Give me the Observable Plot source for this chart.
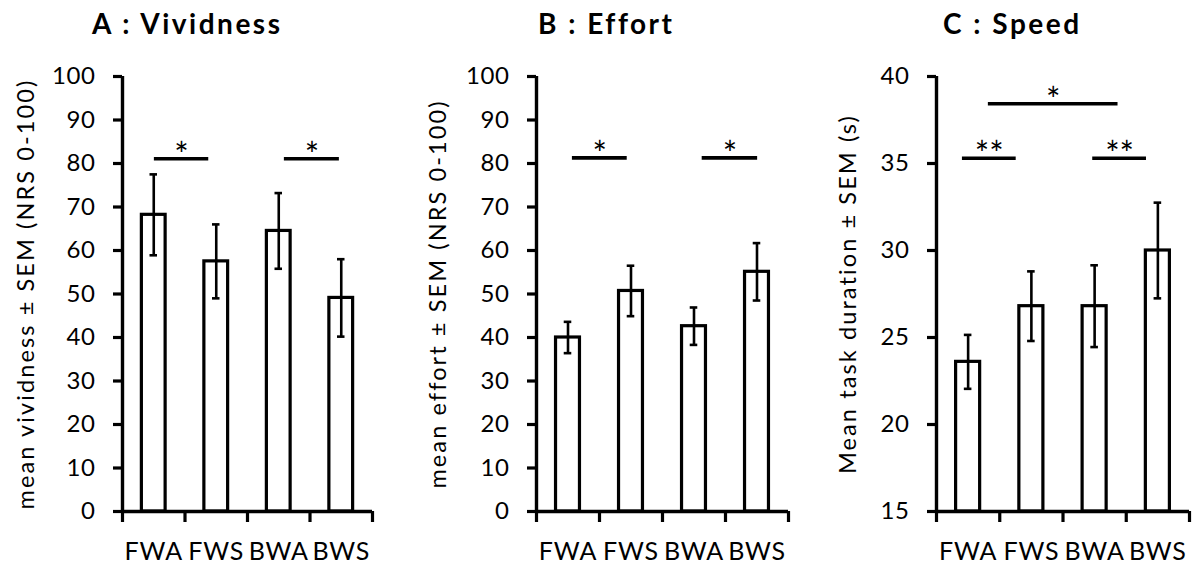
<!DOCTYPE html>
<html><head><meta charset="utf-8">
<script src="https://cdn.jsdelivr.net/npm/d3@7"></script>
<script src="https://cdn.jsdelivr.net/npm/@observablehq/plot@0.6"></script>
<style>
body{margin:0;background:#fff;color:#000;}
#wrap{position:relative;width:1195px;height:564px;overflow:hidden;font-family:Lato,sans-serif;}
.panel{position:absolute;top:0;height:564px;}
.title{position:absolute;top:9px;font-family:Lato,sans-serif;font-weight:bold;font-size:28px;letter-spacing:2.5px;white-space:nowrap;line-height:1;}
.chart{position:absolute;top:50px;left:0;}
</style>
</head><body><div id="wrap"></div>
<script>
const categories = ["FWA", "FWS", "BWA", "BWS"];

const vividMean = [68.2, 57.5, 64.5, 49.1];
const vividSem  = [9.3, 8.5, 8.7, 8.9];
const effortMean = [40.0, 50.7, 42.6, 55.1];
const effortSem  = [3.6, 5.8, 4.3, 6.6];
const speedMean = [23.6, 26.8, 26.8, 30.0];
const speedSem  = [1.55, 2.0, 2.35, 2.75];

const pctTicks = [0, 10, 20, 30, 40, 50, 60, 70, 80, 90, 100];
const speedTicks = [15, 20, 25, 30, 35, 40];

const titles = ["A : Vividness", "B : Effort", "C : Speed"];
const yLabels = ["mean vividness \u00b1 SEM (NRS 0-100)", "mean effort \u00b1 SEM (NRS 0-100)", "Mean task duration \u00b1 SEM (s)"];

// significance brackets: span in category units, level in data units
const sigVivid = [
  {x1: 0.51, x2: 1.38, y: 81.1, label: "*"},
  {x1: 2.59, x2: 3.47, y: 81.1, label: "*"}
];
const sigEffort = [
  {x1: 0.57, x2: 1.44, y: 81.3, label: "*"},
  {x1: 2.63, x2: 3.51, y: 81.3, label: "*"}
];
const sigSpeed = [
  {x1: 0.41, x2: 1.26, y: 35.3, label: "**"},
  {x1: 2.47, x2: 3.32, y: 35.3, label: "**"},
  {x1: 0.82, x2: 2.87, y: 38.43, label: "*"}
];

const panels = [
  {left: 0, width: 400, marginLeft: 122, marginRight: 28, titleLeft: 92, labelDx: -96,
   means: vividMean, sems: vividSem, yDomain: [0, 100], yTicks: pctTicks, sigs: sigVivid},
  {left: 400, width: 400, marginLeft: 136, marginRight: 12, titleLeft: 138, labelDx: -98,
   means: effortMean, sems: effortSem, yDomain: [0, 100], yTicks: pctTicks, sigs: sigEffort},
  {left: 800, width: 395, marginLeft: 136, marginRight: 6, titleLeft: 143, labelDx: -88,
   means: speedMean, sems: speedSem, yDomain: [15, 40], yTicks: speedTicks, sigs: sigSpeed}
];

const wrap = document.getElementById("wrap");

panels.forEach((p, k) => {
  const rows = categories.map((c, i) => ({c, i, m: p.means[i], s: p.sems[i]}));
  const hw = 0.19, cap = 0.06;
  const svg = Plot.plot({
    width: p.width, height: 514,
    marginLeft: p.marginLeft, marginRight: p.marginRight, marginTop: 26, marginBottom: 53,
    x: {domain: [0, 4], axis: null},
    y: {domain: p.yDomain, axis: null},
    style: {fontFamily: "Lato, sans-serif", fontSize: "22px", color: "black", background: "white", overflow: "visible"},
    marks: [
      Plot.rectY(rows, {x1: d => d.i + 0.5 - hw, x2: d => d.i + 0.5 + hw, y1: p.yDomain[0], y2: "m",
        fill: "white", stroke: "black", strokeWidth: 3.2}),
      Plot.ruleX(rows, {x: d => d.i + 0.5, y1: d => d.m - d.s, y2: d => d.m + d.s, stroke: "black", strokeWidth: 2.6}),
      Plot.ruleY(rows, {y: d => d.m + d.s, x1: d => d.i + 0.5 - cap, x2: d => d.i + 0.5 + cap, stroke: "black", strokeWidth: 2.6}),
      Plot.ruleY(rows, {y: d => d.m - d.s, x1: d => d.i + 0.5 - cap, x2: d => d.i + 0.5 + cap, stroke: "black", strokeWidth: 2.6}),
      Plot.ruleX([0], {stroke: "black", strokeWidth: 3.4}),
      Plot.ruleY([p.yDomain[0]], {stroke: "black", strokeWidth: 3.4}),
      Plot.axisY({ticks: p.yTicks, tickSize: 9, tickPadding: 18, fontSize: 24, strokeWidth: 3.2,
        tickFormat: d => String(d), label: null}),
      Plot.axisX({ticks: [0, 1, 2, 3, 4], tickSize: 11, strokeWidth: 3.2, tickFormat: () => "", label: null}),
      Plot.axisX({ticks: [0.5, 1.5, 2.5, 3.5], tickSize: 0, tickPadding: 31, fontSize: 25,
        tickFormat: d => categories[Math.floor(d)], label: null}),
      Plot.ruleY(p.sigs, {y: "y", x1: "x1", x2: "x2", stroke: "black", strokeWidth: 3.6}),
      Plot.text(p.sigs, {x: d => (d.x1 + d.x2) / 2, y: "y", text: "label", fontSize: 34, dy: -3, fill: "black"}),
      Plot.text([yLabels[k]], {frameAnchor: "left", textAnchor: "middle", rotate: -90, dx: p.labelDx, fontSize: 23.5, fill: "black"})
    ]
  });
  const sel = d3.select(svg);
  sel.selectAll('g[aria-label="y-axis tick label"]').style("letter-spacing", "0.6px");
  sel.selectAll('g[aria-label="x-axis tick label"]').style("letter-spacing", "0.8px");
  const texts = sel.selectAll('g[aria-label="text"]').nodes();
  if (texts.length) d3.select(texts[texts.length - 1]).style("letter-spacing", "2.1px");

  const div = document.createElement("div");
  div.className = "panel";
  div.style.left = p.left + "px";
  div.style.width = p.width + "px";
  const t = document.createElement("div");
  t.className = "title";
  t.style.left = p.titleLeft + "px";
  t.textContent = titles[k];
  const c = document.createElement("div");
  c.className = "chart";
  c.appendChild(svg);
  div.appendChild(t);
  div.appendChild(c);
  wrap.appendChild(div);
});
</script>
</body></html>
